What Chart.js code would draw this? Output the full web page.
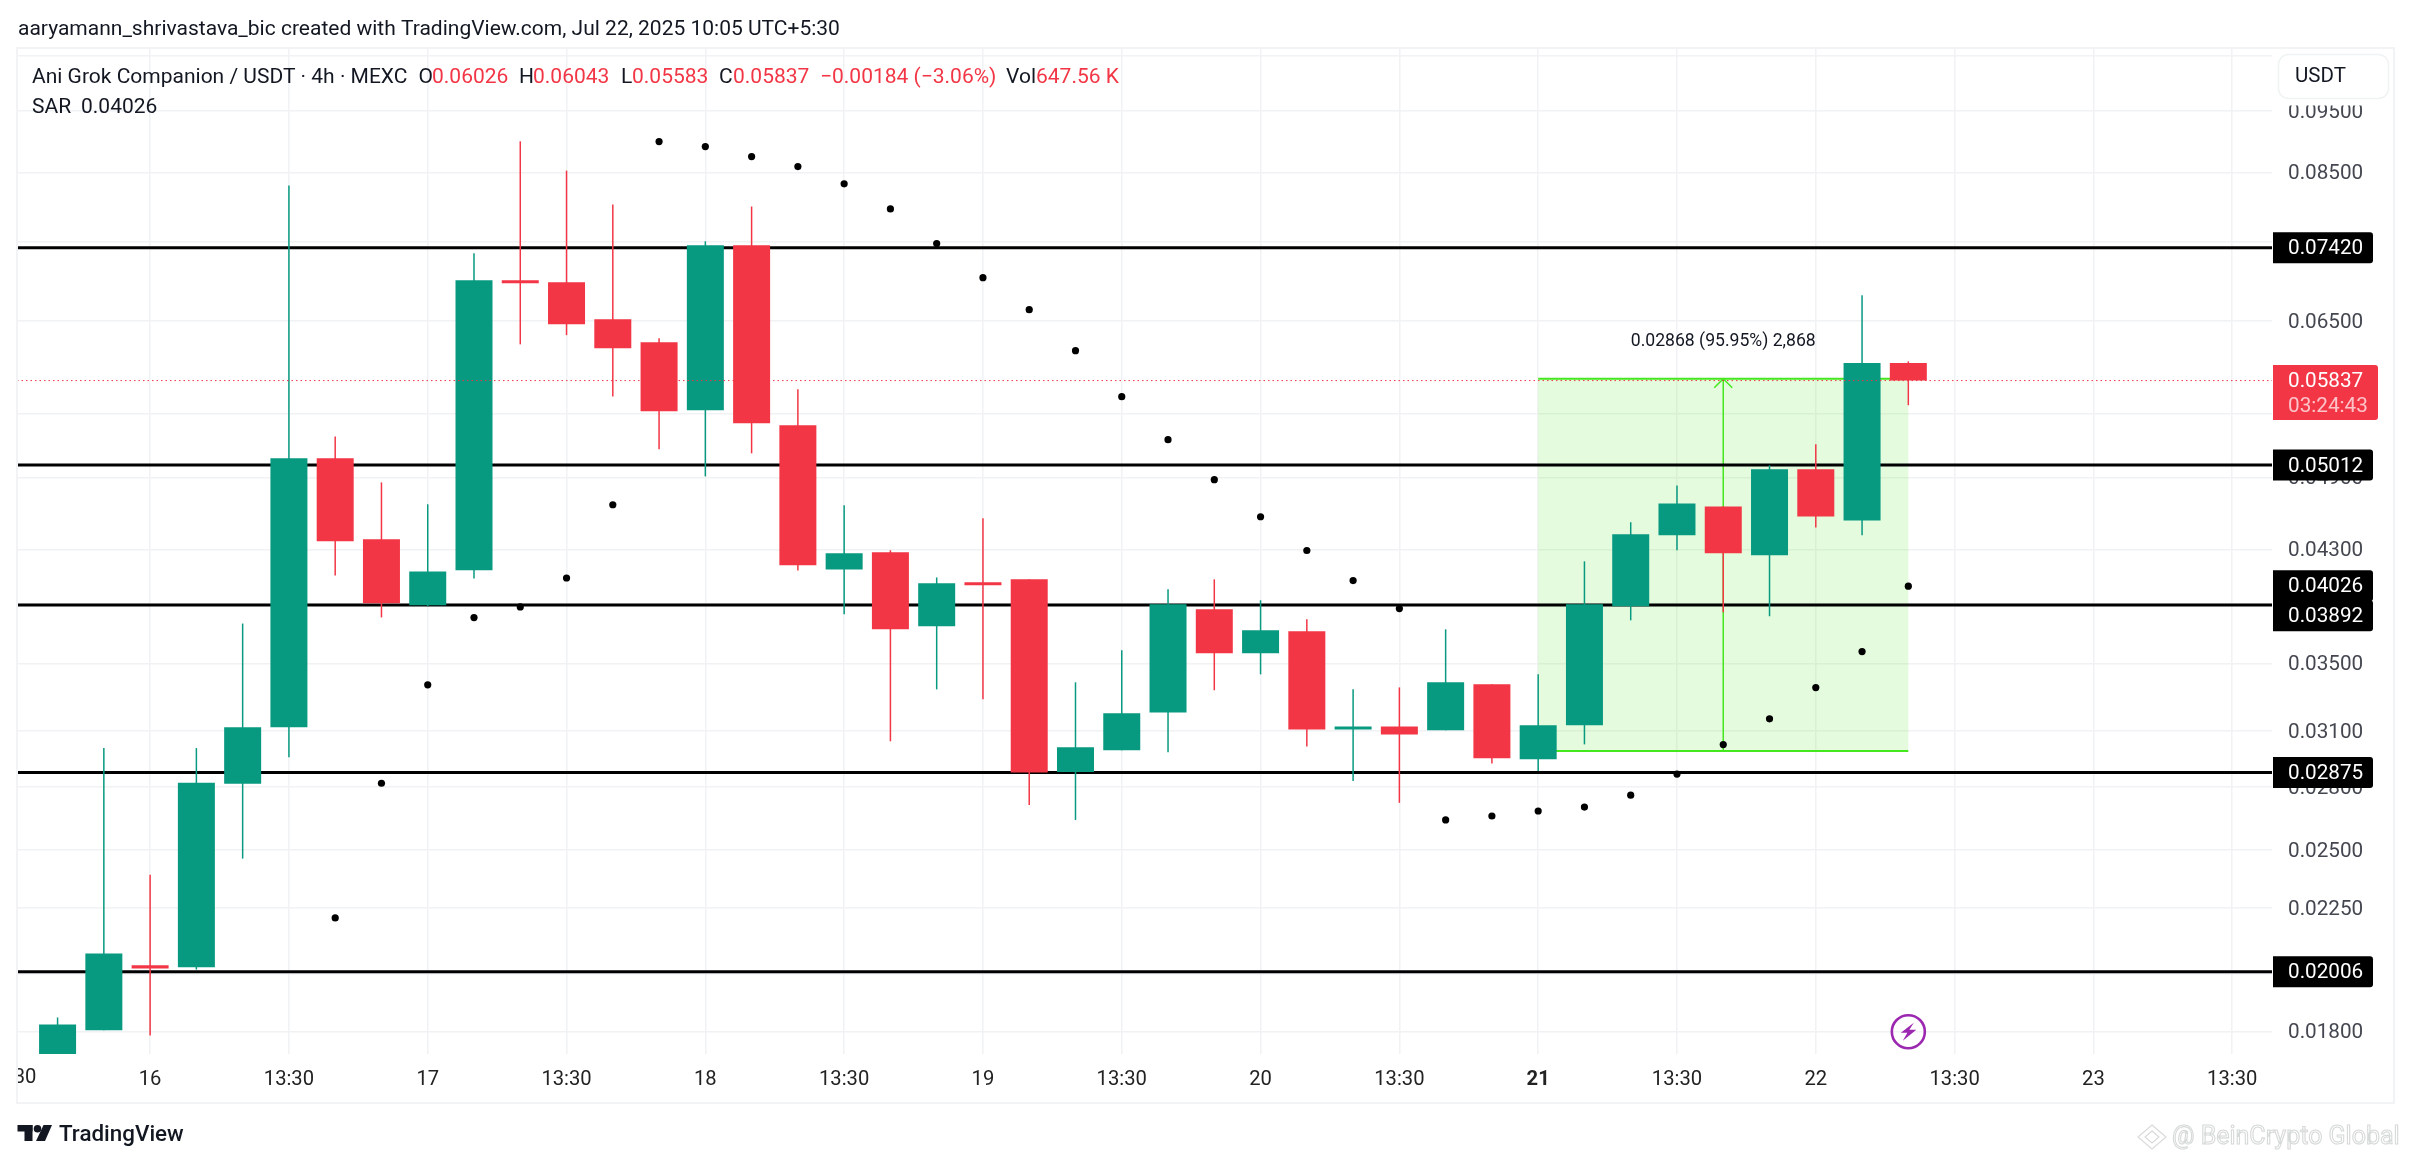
<!DOCTYPE html>
<html><head><meta charset="utf-8">
<style>html,body{margin:0;padding:0;background:#fff}canvas{display:block}</style>
<script src="https://cdn.jsdelivr.net/npm/chart.js@4"></script>
</head><body>
<canvas id="c" width="2412" height="1164"></canvas>
<script>
const opens  = [0.01708,0.01805,0.02030,0.02022,0.02817,0.03120,0.05072,0.04382,0.03890,0.04143,0.06997,0.06972,0.06521,0.06255,0.05532,0.07453,0.05384,0.04150,0.04281,0.03745,0.04055,0.04076,0.02878,0.02993,0.03205,0.03862,0.03567,0.03711,0.03108,0.03125,0.03103,0.03372,0.02945,0.03131,0.03883,0.04414,0.04650,0.04257,0.04972,0.04534,0.06026];
const highs  = [0.01847,0.03005,0.02390,0.03005,0.03763,0.08302,0.05277,0.04856,0.04668,0.07346,0.08994,0.08530,0.08022,0.06300,0.07507,0.07994,0.05747,0.04659,0.04296,0.04090,0.04552,0.04076,0.03384,0.03586,0.04004,0.04076,0.03925,0.03792,0.03342,0.03353,0.03724,0.03372,0.03433,0.04211,0.04519,0.04830,0.04650,0.05009,0.05202,0.06809,0.06043];
const lows   = [0.01700,0.01805,0.01788,0.02014,0.02461,0.02955,0.04105,0.03805,0.03883,0.04082,0.06232,0.06336,0.05672,0.05155,0.04909,0.05118,0.04142,0.03826,0.03042,0.03341,0.03282,0.02711,0.02639,0.02993,0.02982,0.03336,0.03433,0.03014,0.02832,0.02722,0.03103,0.02923,0.02883,0.03025,0.03785,0.04296,0.03840,0.03813,0.04477,0.04414,0.05583];
const closes = [0.01824,0.02073,0.02018,0.02822,0.03120,0.05072,0.04366,0.03903,0.04135,0.06997,0.06959,0.06462,0.06187,0.05523,0.07453,0.05404,0.04181,0.04273,0.03724,0.04048,0.04033,0.02875,0.03009,0.03200,0.03897,0.03567,0.03718,0.03108,0.03125,0.03080,0.03384,0.02950,0.03131,0.03897,0.04422,0.04675,0.04273,0.04972,0.04567,0.06026,0.05837];
const sar    = [null,null,null,null,null,null,0.02211,0.02820,0.03369,0.03804,0.03878,0.04086,0.04664,0.08989,0.08908,0.08749,0.08592,0.08328,0.07960,0.07476,0.07030,0.06635,0.06161,0.05670,0.05246,0.04880,0.04564,0.04294,0.04067,0.03866,0.02639,0.02658,0.02682,0.02701,0.02760,0.02867,0.03024,0.03168,0.03352,0.03577,0.04026];
const levels = [0.07420,0.05012,0.03892,0.02875,0.02006];
const levelLabels = ['0.07420','0.05012','0.03892','0.02875','0.02006'];
const lastPrice = 0.05837;
const priceTicks = [0.105,0.095,0.085,0.075,0.065,0.055,0.049,0.043,0.039,0.035,0.031,0.028,0.025,0.0225,0.020,0.018];
const timeTickIndex = [2,5,8,11,14,17,20,23,26,29,32,35,38,41,44,47];
const timeTickLabels = ['16','13:30','17','13:30','18','13:30','19','13:30','20','13:30','21','13:30','22','13:30','23','13:30'];
const rangeLow = 0.02989, rangeHigh = 0.05857, rangeStart = 32, rangeEnd = 40, rangeMid = 36;

const UP='#089981', DOWN='#f23645', FONT='Roboto, sans-serif';
const xMin=-0.877, xMax=47.86;
const idx = opens.map((_,i)=>i);
const colors = idx.map(i=> closes[i]>=opens[i]?UP:DOWN);

function txt(c,s,x,y,font,color,align){c.font=font;c.fillStyle=color;c.textAlign=align||'left';c.textBaseline='middle';c.fillText(s,x,y+1.5);}
function rrect(c,x,y,w,h,r){c.beginPath();c.roundRect(x,y,w,h,r);}

const zone={id:'zone',beforeDatasetsDraw(ch){
  const c=ch.ctx,X=ch.scales.x,Y=ch.scales.y;
  const x0=X.getPixelForValue(rangeStart),x1=X.getPixelForValue(rangeEnd),xm=X.getPixelForValue(rangeMid);
  const yt=Y.getPixelForValue(rangeHigh),yb=Y.getPixelForValue(rangeLow);
  c.save();
  c.fillStyle='rgba(76,237,30,0.15)';c.fillRect(x0,yt,x1-x0,yb-yt);
  c.strokeStyle='#45e81f';c.lineWidth=2;
  c.beginPath();c.moveTo(x0,yt);c.lineTo(x1,yt);c.moveTo(x0,yb);c.lineTo(x1,yb);c.stroke();
  c.lineWidth=1.5;c.beginPath();c.moveTo(xm,yb);c.lineTo(xm,yt);c.moveTo(xm-9,yt+9);c.lineTo(xm,yt);c.lineTo(xm+9,yt+9);c.stroke();
  c.restore();
}};

const overlay={id:'overlay',afterDraw(ch){
  const c=ch.ctx,X=ch.scales.x,Y=ch.scales.y;
  c.save();
  const dark='#131722';
  // scale corner behind the currency button
  c.fillStyle='#fff';c.fillRect(2273,36,122,69.5);
  // frame
  c.strokeStyle='#f1f3f4';c.lineWidth=2;c.strokeRect(17,48,2377,1055);
  // clipped first time label
  c.save();c.beginPath();c.rect(18,1060,100,40);c.clip();
  txt(c,'13:30',X.getPixelForValue(-1),1076.5,'20.2px '+FONT,'#222','center');c.restore();
  // header
  const f='21px '+FONT;
  txt(c,'aaryamann_shrivastava_bic created with TradingView.com, Jul 22, 2025 10:05 UTC+5:30',18,28,f,dark);
  [['Ani Grok Companion / USDT · 4h · MEXC',32,dark],['O',418.5,dark],['0.06026',432,DOWN],['H',519,dark],['0.06043',533,DOWN],['L',621,dark],['0.05583',632,DOWN],['C',719,dark],['0.05837',733,DOWN],['\u22120.00184 (\u22123.06%)',820,DOWN],['Vol',1006,dark],['647.56 K',1036,DOWN]]
   .forEach(s=>txt(c,s[0],s[1],76,f,s[2]));
  txt(c,'SAR',32,106,f,dark);txt(c,'0.04026',81,106,f,dark);
  // currency button
  rrect(c,2278.5,54.5,110,44,10);c.strokeStyle='#f0f3f4';c.lineWidth=1.5;c.stroke();
  txt(c,'USDT',2295,75.5,'20.5px '+FONT,dark);
  // price labels
  const lab=(s,cy)=>{c.fillStyle='#000';rrect(c,2273,cy-15.5,100,31,[0,3,3,0]);c.fill();txt(c,s,2288,cy,'20.7px '+FONT,'#fff');};
  lab(levelLabels[0],Y.getPixelForValue(levels[0]));
  lab(levelLabels[1],Y.getPixelForValue(levels[1]));
  lab('0.04026',Y.getPixelForValue(sar[40])-0.5);
  lab(levelLabels[2],Y.getPixelForValue(levels[2])+10.8);
  lab(levelLabels[3],Y.getPixelForValue(levels[3]));
  lab(levelLabels[4],Y.getPixelForValue(levels[4]));
  const ly=Y.getPixelForValue(lastPrice);
  c.fillStyle=DOWN;rrect(c,2273,ly-15.5,105,55,[0,3,3,0]);c.fill();
  txt(c,'0.05837',2288,ly,'20.7px '+FONT,'#fff');
  txt(c,'03:24:43',2288,ly+24.5,'20.7px '+FONT,'#fdc3c9');
  // range caption
  txt(c,'0.02868 (95.95%) 2,868',X.getPixelForValue(rangeMid),340.5,'17.6px '+FONT,dark,'center');
  // time marker
  const mx=X.getPixelForValue(rangeEnd),my=1031.7;
  c.strokeStyle='#9c27b0';c.lineWidth=2.6;c.beginPath();c.arc(mx,my,16.5,0,Math.PI*2);c.stroke();
  c.fillStyle='#9c27b0';c.beginPath();
  c.moveTo(mx+5.5,my-9);c.lineTo(mx-7.5,my+1);c.lineTo(mx-1,my+1);c.lineTo(mx-5.5,my+9);c.lineTo(mx+8,my-2);c.lineTo(mx+1,my-2);c.closePath();c.fill();
  // logo
  c.fillStyle='#131722';
  c.fillRect(17.5,1125,15,6.5);c.fillRect(24.5,1125,8,16);
  c.beginPath();c.arc(37.5,1128.7,3.8,0,Math.PI*2);c.fill();
  c.beginPath();c.moveTo(43.5,1125);c.lineTo(52,1125);c.lineTo(45,1141);c.lineTo(36,1141);c.closePath();c.fill();
  txt(c,'TradingView',59,1134,'500 22.4px '+FONT,'#131722');
  // watermark
  c.strokeStyle='#d6dad8';c.lineWidth=1.1;
  c.beginPath();c.moveTo(2152,1125);c.lineTo(2166,1137);c.lineTo(2152,1149);c.lineTo(2138,1137);c.closePath();c.stroke();
  c.beginPath();c.moveTo(2152,1131);c.lineTo(2159,1137);c.lineTo(2152,1143);c.lineTo(2145,1137);c.closePath();c.stroke();
  c.font='25px '+FONT;c.textAlign='left';c.textBaseline='middle';c.strokeText('@ BeinCrypto Global',2172,1138);
  c.restore();
}};

const gridC='#f0f2f3';
new Chart(document.getElementById('c'),{
  type:'bar',
  data:{datasets:[
    ...levels.map(v=>({type:'line',data:[{x:xMin,y:v},{x:xMax,y:v}],borderColor:'#000',borderWidth:3,pointRadius:0,order:5})),
    {data:idx.map(i=>({x:i,y:[lows[i],highs[i]]})),backgroundColor:colors,barThickness:1.5,grouped:false,borderWidth:0,inflateAmount:0,order:3},
    {data:idx.map(i=>({x:i,y:[Math.min(opens[i],closes[i]),Math.max(opens[i],closes[i])]})),backgroundColor:colors,barThickness:37,grouped:false,borderWidth:0,inflateAmount:0,order:2},
    {type:'line',data:idx.map(i=>({x:i,y:sar[i]})),showLine:false,pointRadius:3.6,pointBackgroundColor:'#000',pointBorderWidth:0,order:1},
    {type:'line',data:[{x:xMin,y:lastPrice},{x:xMax,y:lastPrice}],borderColor:DOWN,borderWidth:1,borderDash:[1.5,3],pointRadius:0,order:0}
  ]},
  options:{
    responsive:false,devicePixelRatio:1,animation:false,
    layout:{padding:{left:17,top:48,right:0,bottom:0}},
    plugins:{legend:{display:false},tooltip:{enabled:false},title:{display:false}},
    scales:{
      x:{type:'linear',min:xMin,max:xMax,offset:false,
        grid:{color:gridC,lineWidth:1.5,drawTicks:false,offset:false},border:{display:false},
        afterBuildTicks:s=>{s.ticks=timeTickIndex.map(v=>({value:v}));},
        afterFit:s=>{s.height=110;},
        ticks:{autoSkip:false,maxRotation:0,padding:14,color:'#222',
          font:ctx=>({family:FONT,size:20.2,weight:(ctx.tick&&ctx.tick.value===32)?'700':'400'}),
          callback:v=>timeTickLabels[timeTickIndex.indexOf(v)]}},
      y:{type:'logarithmic',position:'right',min:0.01729,max:0.10645,
        grid:{color:gridC,lineWidth:1.5,drawTicks:false},border:{display:false},
        afterBuildTicks:s=>{s.ticks=priceTicks.map(v=>({value:v}));},
        afterFit:s=>{s.width=140;},
        ticks:{autoSkip:false,padding:16,labelOffset:1.5,color:'#444750',font:{family:FONT,size:20.7},
          callback:v=>Number(v).toFixed(5)}}
    }
  },
  plugins:[zone,overlay]
});
</script>
</body></html>
